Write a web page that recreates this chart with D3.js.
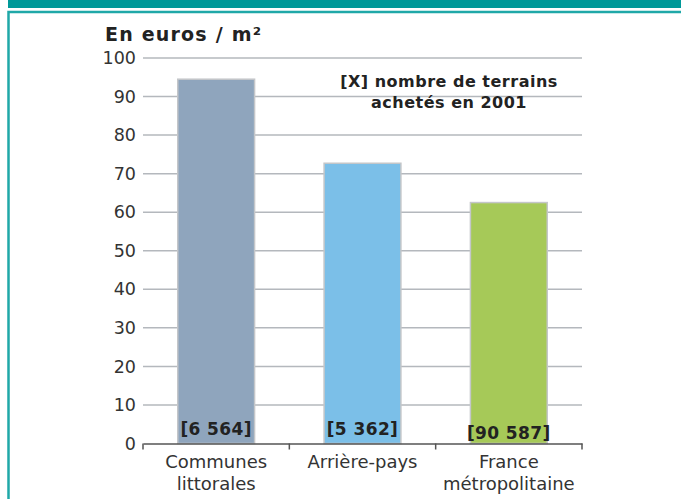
<!DOCTYPE html>
<html>
<head>
<meta charset="utf-8">
<script src="https://cdn.jsdelivr.net/npm/d3@7"></script>
<style>
  body { margin: 0; background: #fff; }
  text { font-family: "DejaVu Sans", Verdana, sans-serif; }
</style>
</head>
<body>
<svg id="chart"></svg>
<script>
// données
var categories = [["Communes", "littorales"], ["Arrière-pays"], ["France", "métropolitaine"]];
var values = [94.5, 72.7, 62.5];
var counts = ["[6 564]", "[5 362]", "[90 587]"];
var colors = ["#8fa5bd", "#7bbfe8", "#a6c958"];
var yTicks = [0, 10, 20, 30, 40, 50, 60, 70, 80, 90, 100];

var width = 681, height = 499;
var plotLeft = 143, plotRight = 582, plotTop = 58, plotBottom = 443.5;

var svg = d3.select("#chart")
  .attr("width", width)
  .attr("height", height);

// cadre
svg.append("rect")
  .attr("x", 8).attr("y", 0)
  .attr("width", width - 8).attr("height", 8)
  .attr("fill", "#009999");
svg.append("path")
  .attr("d", "M8.5," + height + "V12H" + width)
  .attr("fill", "none")
  .attr("stroke", "#1fa8a8")
  .attr("stroke-width", 2.5);

var x = d3.scaleBand()
  .domain(d3.range(values.length))
  .range([plotLeft, plotRight])
  .padding(0);

var y = d3.scaleLinear()
  .domain([0, 100])
  .range([plotBottom, plotTop]);

// grille
svg.append("g")
  .selectAll("line")
  .data(yTicks.slice(1))
  .enter().append("line")
    .attr("x1", plotLeft).attr("x2", plotRight)
    .attr("y1", function(d) { return y(d); })
    .attr("y2", function(d) { return y(d); })
    .attr("stroke", "#b4b8bd")
    .attr("stroke-width", 1.5);

// axe y
var yAxis = svg.append("g")
  .attr("transform", "translate(" + plotLeft + ",0)")
  .call(d3.axisLeft(y).tickValues(yTicks).tickSize(0).tickPadding(7));
yAxis.select(".domain").remove();
yAxis.selectAll("text")
  .attr("font-size", 17.5)
  .attr("fill", "#333")
  .style("font-family", "\"DejaVu Sans\", Verdana, sans-serif");

// barres
var barW = x.bandwidth() * 0.525;
svg.append("g")
  .selectAll("rect")
  .data(values)
  .enter().append("rect")
    .attr("x", function(d, i) { return x(i) + (x.bandwidth() - barW) / 2; })
    .attr("y", function(d) { return y(d); })
    .attr("width", barW)
    .attr("height", function(d) { return y(0) - y(d); })
    .attr("fill", function(d, i) { return colors[i]; })
    .attr("stroke", "#c4c6c9")
    .attr("stroke-width", 1.5);

// axe x
var xAxis = svg.append("g")
  .attr("transform", "translate(0," + plotBottom + ")")
  .call(d3.axisBottom(x).tickSize(0).tickFormat(""));
xAxis.select(".domain")
  .attr("stroke", "#555")
  .attr("stroke-width", 1.5);
xAxis.selectAll(".tick").remove();
xAxis.selectAll(".sep")
  .data(d3.range(values.length + 1))
  .enter().append("line")
    .attr("class", "sep")
    .attr("x1", function(i) { return plotLeft + i * x.step(); })
    .attr("x2", function(i) { return plotLeft + i * x.step(); })
    .attr("y1", 0).attr("y2", 6)
    .attr("stroke", "#555")
    .attr("stroke-width", 1.5);

// étiquettes des catégories
svg.append("g")
  .selectAll("text")
  .data(categories)
  .enter().append("text")
    .attr("text-anchor", "middle")
    .attr("font-size", 18)
    .attr("fill", "#333")
    .each(function(d, i) {
      var t = d3.select(this);
      d.forEach(function(line, j) {
        t.append("tspan")
          .attr("x", x(i) + x.bandwidth() / 2)
          .attr("y", 468 + j * 22)
          .text(line);
      });
    });

// nombre de terrains
svg.append("g")
  .selectAll("text")
  .data(counts)
  .enter().append("text")
    .attr("x", function(d, i) { return x(i) + x.bandwidth() / 2; })
    .attr("y", function(d, i) { return plotBottom - (i == 2 ? 5 : 9); })
    .attr("text-anchor", "middle")
    .attr("font-size", 17)
    .attr("font-weight", "bold")
    .attr("letter-spacing", 0.4)
    .attr("fill", "#222")
    .text(function(d) { return d; });

// titre
svg.append("text")
  .attr("x", 105).attr("y", 41)
  .attr("font-size", 19)
  .attr("font-weight", "bold")
  .attr("letter-spacing", 1.2)
  .attr("fill", "#222")
  .text("En euros / m²");

// légende
var note = svg.append("text")
  .attr("text-anchor", "middle")
  .attr("font-size", 16)
  .attr("font-weight", "bold")
  .attr("letter-spacing", 0.5)
  .attr("fill", "#222");
note.append("tspan").attr("x", 449).attr("y", 87).text("[X] nombre de terrains");
note.append("tspan").attr("x", 449).attr("y", 108).text("achetés en 2001");
</script>
</body>
</html>
